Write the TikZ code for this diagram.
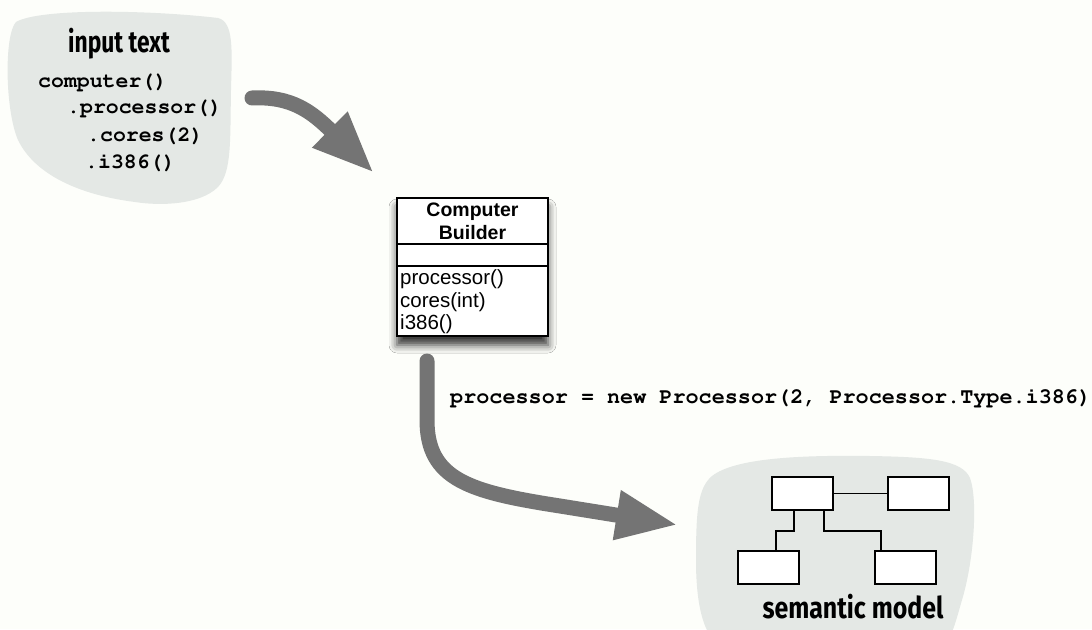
\documentclass[tikz,border=0pt]{standalone}
\usepackage{fontspec}
\setmainfont{Liberation Sans}
\newfontfamily\handfont{Fira Sans}
\usetikzlibrary{arrows.meta,shadows.blur}

% Courier (Type 1) for the code snippets
\newcommand{\couriercode}{\fontencoding{T1}\fontfamily{pcr}\fontseries{b}\selectfont}

\definecolor{paper}{HTML}{FDFEFA}
\definecolor{blobfill}{HTML}{E4E8E5}
\definecolor{flow}{HTML}{747474}

\tikzset{
  blob/.style={fill=blobfill, draw=none},
  code/.style={anchor=west, inner sep=0pt, font=\couriercode\fontsize{21.5}{25}\selectfont},
  hand/.style={inner sep=0pt, font=\handfont\bfseries\fontsize{30}{32}\selectfont},
  umltext/.style={anchor=west, inner sep=0pt, font=\fontsize{20.5}{23}\selectfont},
  umltitle/.style={inner sep=0pt, font=\bfseries\fontsize{19.5}{23}\selectfont},
  umlbox/.style={draw=black, line width=1.4pt, fill=white,
    blur shadow={shadow xshift=0pt, shadow yshift=-9pt, shadow blur radius=8pt, shadow opacity=80}},
  modelbox/.style={draw=black, line width=1.6pt, fill=white, minimum width=61pt, minimum height=33pt, inner sep=0pt},
  modelline/.style={draw=black, line width=1.6pt},
  flowarrow/.style={draw=flow, line width=15pt, line cap=round,
    -{Triangle[length=62pt, width=46pt]}},
}

\begin{document}
\begin{tikzpicture}[x=1pt, y=-1pt]
\useasboundingbox (0,0) rectangle (1092,629);
\clip (0,0) rectangle (1092,629);
\fill[paper] (0,0) rectangle (1092,629);

% input text cloud
\path[blob] (16,22) .. controls (40,8) and (150,10) .. (218,18)
  .. controls (234,22) and (232,50) .. (231,90)
  .. controls (230,140) and (232,172) .. (218,187)
  .. controls (200,205) and (160,206) .. (135,202)
  .. controls (80,195) and (35,175) .. (18,140)
  .. controls (5,110) and (4,35) .. (16,22) -- cycle;
\node[hand, xscale=0.76] (inlabel) at (119,44) {input text};
\node[code] (l1) at (38,82) {computer()};
\node[code] (l2) at (67,108) {.processor()};
\node[code] (l3) at (87,136) {.cores(2)};
\node[code] (l4) at (85,162) {.i386()};

% semantic model cloud
\path[blob] (712,476) .. controls (735,458) and (800,455) .. (870,456)
  .. controls (930,457) and (962,460) .. (970,478)
  .. controls (978,500) and (974,560) .. (962,600)
  .. controls (956,620) and (952,640) .. (940,650)
  -- (725,650)
  .. controls (705,640) and (696,610) .. (696,560)
  .. controls (696,510) and (698,488) .. (712,476) -- cycle;
\node[modelbox] (m1) at (802.5,493.5) {};
\node[modelbox] (m2) at (918.5,493.5) {};
\node[modelbox] (m3) at (768.5,567.5) {};
\node[modelbox] (m4) at (905.5,567.5) {};
\draw[modelline] (m1.east) -- (m2.west);
\draw[modelline] ([xshift=23pt]m1.south west) -- ++(0,20) -| ([xshift=39pt]m3.north west);
\draw[modelline] ([xshift=53pt]m1.south west) -- ++(0,20) -| ([xshift=7pt]m4.north west);
\node[hand, xscale=0.83] (modellabel) at (853,607) {semantic model};

% builder class
\node[umlbox, minimum width=151pt, minimum height=138pt, inner sep=0pt] (builder) at (472.5,267) {};
\draw[line width=1.4pt] (builder.west |- 0,244) -- (builder.east |- 0,244);
\draw[line width=1.4pt] (builder.west |- 0,266) -- (builder.east |- 0,266);
\node[umltitle] (t1) at (472.5,212) {Computer};
\node[umltitle] (t2) at (472.5,233) {Builder};
\node[umltext] (op1) at (400,279) {processor()};
\node[umltext] (op2) at (400,302) {cores(int)};
\node[umltext] (op3) at (400,324) {i386()};

% flow arrows
\coordinate (f1s) at (252,98);
\coordinate (f1e) at (374,173);
\draw[flowarrow] (f1s) .. controls (292,96) and (312,112) .. (f1e);

\coordinate (f2s) at (427,361);
\coordinate (f2e) at (678,525);
\draw[flowarrow] (f2s) -- (427,420) .. controls (427,480) and (470,492) .. (560,506) -- (f2e);

\node[code, font=\couriercode\fontsize{21.8}{25}\selectfont] (call) at (450,398)
  {processor = new Processor(2, Processor.Type.i386)};
\end{tikzpicture}
\end{document}
